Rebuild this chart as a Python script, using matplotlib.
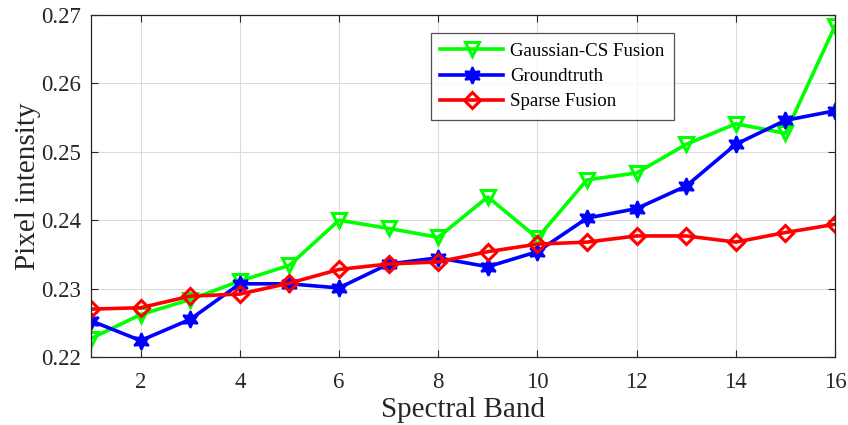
import matplotlib
matplotlib.use("Agg")
import matplotlib.pyplot as plt

bands = list(range(1, 17))
gaussian_cs = [0.2227, 0.2262, 0.2284, 0.2311, 0.2334, 0.2400, 0.2388, 0.2375,
               0.2434, 0.2374, 0.2459, 0.2469, 0.2511, 0.2541, 0.2527, 0.2684]
groundtruth = [0.2253, 0.2224, 0.2255, 0.2307, 0.2307, 0.2301, 0.2336, 0.2345,
               0.2332, 0.2354, 0.2403, 0.2417, 0.2450, 0.2511, 0.2546, 0.2560]
sparse = [0.2270, 0.2272, 0.2289, 0.2292, 0.2308, 0.2328, 0.2336, 0.2339,
          0.2354, 0.2365, 0.2368, 0.2377, 0.2377, 0.2368, 0.2382, 0.2394]
xticks = list(range(2, 17, 2))
yticks = [0.22, 0.23, 0.24, 0.25, 0.26, 0.27]

plt.rcParams['font.family'] = ['Liberation Serif', 'DejaVu Serif']

fig = plt.figure(figsize=(8.48, 4.25), dpi=100)
ax = fig.add_axes([0.1073, 0.16, 0.8774, 0.8047])

hexagram = (6, 1, 0)
ax.plot(bands, gaussian_cs, color='#00ff00', lw=2.6, marker='v', ms=10.5,
        mfc='none', mew=2.2, label='Gaussian-CS Fusion')
ax.plot(bands, groundtruth, color='#0000ff', lw=2.6, marker=hexagram, ms=12,
        mfc='#0000ff', mew=1.5, label='Groundtruth')
ax.plot(bands, sparse, color='#ff0000', lw=2.6, marker='D', ms=8.5,
        mfc='none', mew=2.2, label='Sparse Fusion')

ax.set_xlim(1, 16)
ax.set_ylim(0.22, 0.27)
ax.set_xticks(xticks)
ax.set_yticks(yticks)
ax.set_yticklabels([f"{v:.2f}" for v in yticks])
ax.tick_params(direction='in', top=True, right=True, labelsize=16.5,
               length=5, width=0.8, colors='#262626')
ax.tick_params(axis='x', pad=11)
ax.tick_params(axis='y', pad=7)
ax.grid(True, color='#dcdcdc', lw=0.8)
ax.set_axisbelow(True)
for s in ax.spines.values():
    s.set_color('#262626')
    s.set_linewidth(0.9)

ax.set_xlabel('Spectral Band', fontsize=21, color='#262626', labelpad=3)
ax.set_ylabel('Pixel intensity', fontsize=21, color='#262626', labelpad=0)

leg = ax.legend(loc='upper left', bbox_to_anchor=(0.457, 0.947), borderaxespad=0,
                fontsize=13.6, fancybox=False, edgecolor='#262626',
                handlelength=3.3, labelspacing=0.43, borderpad=0.5,
                handletextpad=0.4)
leg.get_frame().set_linewidth(0.9)

fig.savefig('out.png', dpi=100)
